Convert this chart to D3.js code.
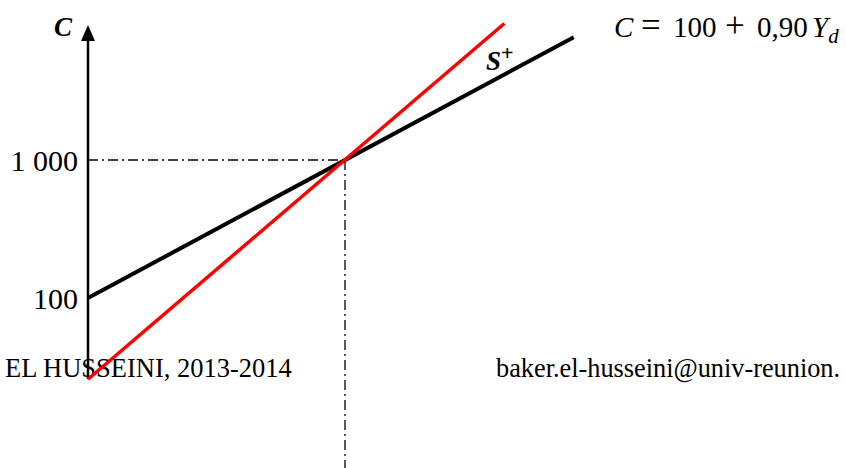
<!DOCTYPE html>
<html><head><meta charset="utf-8">
<script src="https://cdn.jsdelivr.net/npm/d3@7"></script>
<style>body{margin:0;background:#fff}svg{display:block}</style>
</head><body>
<svg id="c" width="846" height="468"></svg>
<script>
// Data (schematic units: Y_d on x, C on y)
const consumption = [{yd: 0, c: 100}, {yd: 1890, c: 100 + 0.9 * 1890}]; // C = 100 + 0.90 Yd
const saving = [{yd: 0, c: -430}, {yd: 1620, c: 1890}];               // red line
const equilibrium = {yd: 1000, c: 1000};
const tickValues = [100, 1000];
const tickLabels = ["100", "1 000"];
const axisRange = {cMin: -430, cMax: 1880};

const svg = d3.select("#c");
const x = d3.scaleLinear().domain([0, 1000]).range([88, 345]);
const y = d3.scaleLinear().domain([100, 1000]).range([298, 160]);

// footer texts (under the lines)
svg.append("text").attr("x", 5).attr("y", 377)
  .attr("font-family", "Liberation Serif").attr("font-size", 26.5).text("EL HUSSEINI, 2013-2014");
svg.append("text").attr("x", 496).attr("y", 377)
  .attr("font-family", "Liberation Serif").attr("font-size", 26.3).text("baker.el-husseini@univ-reunion.");

// dash-dot guides
svg.append("line").attr("x1", x(0)).attr("x2", x(equilibrium.yd))
  .attr("y1", y(equilibrium.c)).attr("y2", y(equilibrium.c))
  .attr("stroke", "#000").attr("stroke-width", 1.3).attr("stroke-dasharray", "10,4,2,4");
svg.append("line").attr("x1", x(equilibrium.yd)).attr("x2", x(equilibrium.yd))
  .attr("y1", y(equilibrium.c)).attr("y2", 468)
  .attr("stroke", "#000").attr("stroke-width", 1.3).attr("stroke-dasharray", "10,4,2,4");

// y axis with labels
const ax = svg.append("g").attr("transform", `translate(${x(0)},0)`)
  .call(d3.axisLeft(y).tickValues(tickValues).tickSize(0).tickPadding(10)
    .tickFormat((d, i) => tickLabels[i]));
ax.select(".domain").remove();
ax.selectAll("text").attr("font-family", "Liberation Serif").attr("font-size", 30).attr("fill", "#000")
  .attr("dy", "0.34em");

svg.append("line").attr("x1", x(0)).attr("x2", x(0))
  .attr("y1", y(axisRange.cMin)).attr("y2", y(axisRange.cMax) + 12)
  .attr("stroke", "#000").attr("stroke-width", 2.5);
const tipY = y(axisRange.cMax);
svg.append("path").attr("d", `M${x(0)},${tipY} L${x(0) - 7},${tipY + 16} L${x(0) + 7},${tipY + 16} Z`).attr("fill", "#000");

// lines
const line = d3.line().x(d => x(d.yd)).y(d => y(d.c));
svg.append("path").datum(consumption).attr("d", line).attr("fill", "none")
  .attr("stroke", "#000").attr("stroke-width", 4);
svg.append("path").datum(saving).attr("d", line).attr("fill", "none")
  .attr("stroke", "#ff0000").attr("stroke-width", 3.5);

// labels
svg.append("text").attr("x", 54).attr("y", 36)
  .attr("font-family", "Liberation Serif").attr("font-weight", "bold").attr("font-style", "italic")
  .attr("font-size", 27).text("C");

const eq = svg.append("text").attr("y", 37)
  .attr("font-family", "Liberation Serif").attr("font-size", 29);
eq.append("tspan").attr("x", 614).attr("font-style", "italic").text("C");
eq.append("tspan").attr("x", 641).attr("font-size", 35).text("=");
eq.append("tspan").attr("x", 673).text("100");
eq.append("tspan").attr("x", 725).attr("font-size", 35).text("+");
eq.append("tspan").attr("x", 757).text("0,90");
eq.append("tspan").attr("x", 812).attr("font-style", "italic").text("Y");
eq.append("tspan").attr("font-style", "italic").attr("font-size", 21).attr("dy", 6).text("d");

const s = svg.append("text").attr("x", 486).attr("y", 70)
  .attr("font-family", "Liberation Serif").attr("font-weight", "bold").attr("font-style", "italic")
  .attr("font-size", 27);
s.append("tspan").text("S");
s.append("tspan").attr("font-size", 22).attr("dy", -10).attr("font-style", "normal").text("+");
</script>
</body></html>
